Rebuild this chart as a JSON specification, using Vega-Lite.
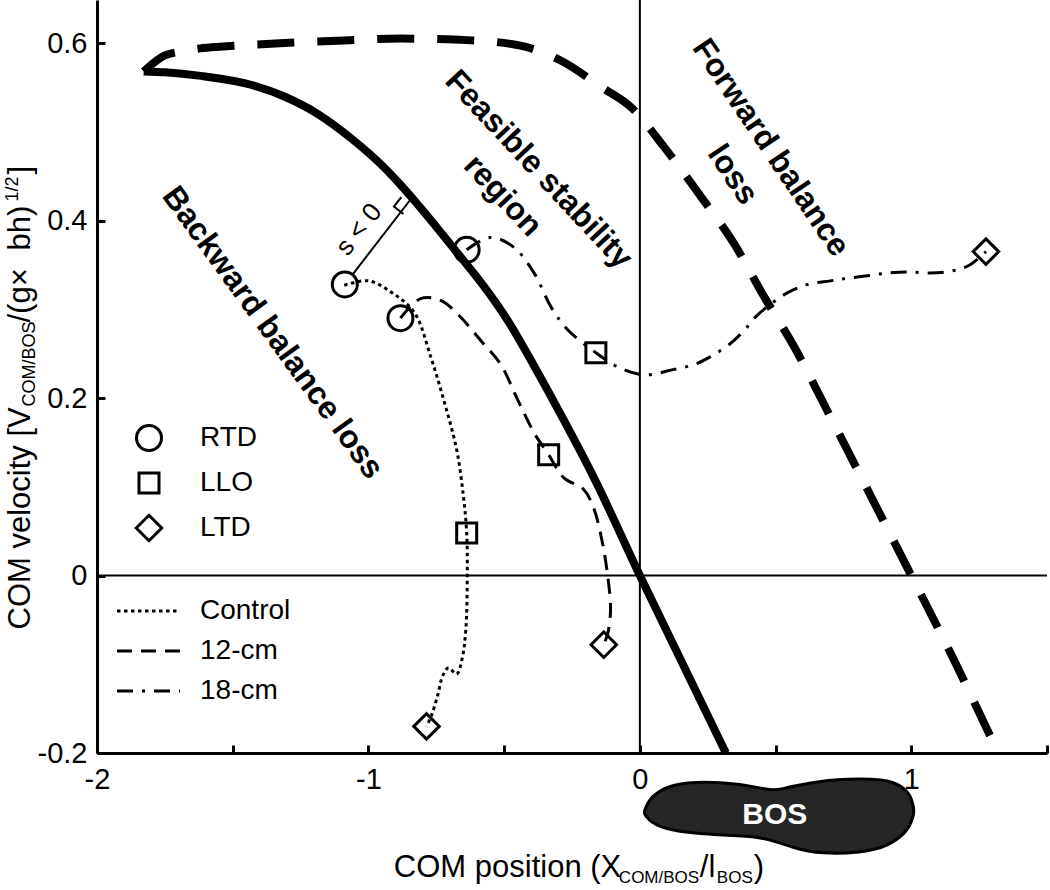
{
  "$schema": "https://vega.github.io/schema/vega-lite/v6.json",
  "width": 950,
  "height": 753,
  "autosize": {"type": "none"},
  "padding": {"left": 97, "top": 0, "right": 3, "bottom": 137},
  "background": "white",
  "config": {
    "view": {"stroke": null},
    "font": "Liberation Sans",
    "axis": {
      "grid": false,
      "domainColor": "black",
      "domainWidth": 3,
      "tickColor": "black",
      "tickWidth": 3,
      "tickSize": -8,
      "labelFont": "Liberation Sans",
      "labelFontSize": 29,
      "labelColor": "black",
      "title": null
    },
    "legend": {"padding": 0, "labelFont": "Liberation Sans", "labelColor": "black", "labelFontSize": 28, "title": null}
  },
  "datasets": {
    "traj": [
      {"s": "Control", "i": 1, "x": -1.089, "y": 0.327},
      {"s": "Control", "i": 2, "x": -1.0, "y": 0.332},
      {"s": "Control", "i": 3, "x": -0.91, "y": 0.318},
      {"s": "Control", "i": 4, "x": -0.83, "y": 0.296},
      {"s": "Control", "i": 5, "x": -0.77, "y": 0.246},
      {"s": "Control", "i": 6, "x": -0.72, "y": 0.195},
      {"s": "Control", "i": 7, "x": -0.675, "y": 0.142},
      {"s": "Control", "i": 8, "x": -0.65, "y": 0.089},
      {"s": "Control", "i": 9, "x": -0.638, "y": 0.048},
      {"s": "Control", "i": 10, "x": -0.636, "y": 0.0},
      {"s": "Control", "i": 11, "x": -0.641, "y": -0.06},
      {"s": "Control", "i": 12, "x": -0.655, "y": -0.094},
      {"s": "Control", "i": 13, "x": -0.675, "y": -0.111},
      {"s": "Control", "i": 14, "x": -0.705, "y": -0.104},
      {"s": "Control", "i": 15, "x": -0.725, "y": -0.112},
      {"s": "Control", "i": 16, "x": -0.745, "y": -0.135},
      {"s": "Control", "i": 17, "x": -0.768, "y": -0.158},
      {"s": "Control", "i": 18, "x": -0.786, "y": -0.17},
      {"s": "12-cm", "i": 1, "x": -0.882, "y": 0.29},
      {"s": "12-cm", "i": 2, "x": -0.808, "y": 0.312},
      {"s": "12-cm", "i": 3, "x": -0.734, "y": 0.31},
      {"s": "12-cm", "i": 4, "x": -0.66, "y": 0.291},
      {"s": "12-cm", "i": 5, "x": -0.587, "y": 0.265},
      {"s": "12-cm", "i": 6, "x": -0.513, "y": 0.238},
      {"s": "12-cm", "i": 7, "x": -0.45, "y": 0.198},
      {"s": "12-cm", "i": 8, "x": -0.39, "y": 0.161},
      {"s": "12-cm", "i": 9, "x": -0.336, "y": 0.136},
      {"s": "12-cm", "i": 10, "x": -0.28, "y": 0.11},
      {"s": "12-cm", "i": 11, "x": -0.207, "y": 0.097},
      {"s": "12-cm", "i": 12, "x": -0.17, "y": 0.076},
      {"s": "12-cm", "i": 13, "x": -0.14, "y": 0.04},
      {"s": "12-cm", "i": 14, "x": -0.12, "y": 0.003},
      {"s": "12-cm", "i": 15, "x": -0.108, "y": -0.038},
      {"s": "12-cm", "i": 16, "x": -0.118, "y": -0.065},
      {"s": "12-cm", "i": 17, "x": -0.133, "y": -0.078},
      {"s": "18-cm", "i": 1, "x": -0.638, "y": 0.367},
      {"s": "18-cm", "i": 2, "x": -0.55, "y": 0.381},
      {"s": "18-cm", "i": 3, "x": -0.465, "y": 0.37},
      {"s": "18-cm", "i": 4, "x": -0.39, "y": 0.341},
      {"s": "18-cm", "i": 5, "x": -0.328, "y": 0.303},
      {"s": "18-cm", "i": 6, "x": -0.266, "y": 0.277},
      {"s": "18-cm", "i": 7, "x": -0.162, "y": 0.251},
      {"s": "18-cm", "i": 8, "x": -0.081, "y": 0.235},
      {"s": "18-cm", "i": 9, "x": 0.015, "y": 0.226},
      {"s": "18-cm", "i": 10, "x": 0.122, "y": 0.232},
      {"s": "18-cm", "i": 11, "x": 0.203, "y": 0.238},
      {"s": "18-cm", "i": 12, "x": 0.262, "y": 0.247},
      {"s": "18-cm", "i": 13, "x": 0.328, "y": 0.26},
      {"s": "18-cm", "i": 14, "x": 0.384, "y": 0.276},
      {"s": "18-cm", "i": 15, "x": 0.435, "y": 0.294},
      {"s": "18-cm", "i": 16, "x": 0.546, "y": 0.319},
      {"s": "18-cm", "i": 17, "x": 0.62, "y": 0.328},
      {"s": "18-cm", "i": 18, "x": 0.701, "y": 0.332},
      {"s": "18-cm", "i": 19, "x": 0.767, "y": 0.335},
      {"s": "18-cm", "i": 20, "x": 0.845, "y": 0.338},
      {"s": "18-cm", "i": 21, "x": 0.915, "y": 0.341},
      {"s": "18-cm", "i": 22, "x": 0.985, "y": 0.342},
      {"s": "18-cm", "i": 23, "x": 1.066, "y": 0.341},
      {"s": "18-cm", "i": 24, "x": 1.147, "y": 0.343},
      {"s": "18-cm", "i": 25, "x": 1.21, "y": 0.349},
      {"s": "18-cm", "i": 26, "x": 1.275, "y": 0.365}
    ],
    "solid": [
      {"i": 1, "x": -1.828, "y": 0.568},
      {"i": 2, "x": -1.75, "y": 0.567},
      {"i": 3, "x": -1.618, "y": 0.563},
      {"i": 4, "x": -1.433, "y": 0.553},
      {"i": 5, "x": -1.312, "y": 0.54},
      {"i": 6, "x": -1.186, "y": 0.52},
      {"i": 7, "x": -1.065, "y": 0.493},
      {"i": 8, "x": -0.943, "y": 0.46},
      {"i": 9, "x": -0.881, "y": 0.44},
      {"i": 10, "x": -0.818, "y": 0.418},
      {"i": 11, "x": -0.671, "y": 0.363},
      {"i": 12, "x": -0.575, "y": 0.326},
      {"i": 13, "x": -0.486, "y": 0.287},
      {"i": 14, "x": -0.391, "y": 0.237},
      {"i": 15, "x": -0.28, "y": 0.175},
      {"i": 16, "x": -0.169, "y": 0.11},
      {"i": 17, "x": 0.0, "y": 0.0},
      {"i": 18, "x": 0.317, "y": -0.2}
    ],
    "dashed": [
      {"i": 1, "x": -1.828, "y": 0.568},
      {"i": 2, "x": -1.79, "y": 0.578},
      {"i": 3, "x": -1.75, "y": 0.586},
      {"i": 4, "x": -1.7, "y": 0.59},
      {"i": 5, "x": -1.62, "y": 0.594},
      {"i": 6, "x": -1.535, "y": 0.596},
      {"i": 7, "x": -1.31, "y": 0.6},
      {"i": 8, "x": -1.09, "y": 0.603},
      {"i": 9, "x": -0.88, "y": 0.605},
      {"i": 10, "x": -0.62, "y": 0.603},
      {"i": 11, "x": -0.44, "y": 0.597},
      {"i": 12, "x": -0.29, "y": 0.58},
      {"i": 13, "x": -0.14, "y": 0.55},
      {"i": 14, "x": -0.03, "y": 0.527},
      {"i": 15, "x": 0.089, "y": 0.483},
      {"i": 16, "x": 0.225, "y": 0.427},
      {"i": 17, "x": 0.347, "y": 0.374},
      {"i": 18, "x": 0.458, "y": 0.314},
      {"i": 19, "x": 0.568, "y": 0.258},
      {"i": 20, "x": 0.7, "y": 0.18},
      {"i": 21, "x": 0.85, "y": 0.09},
      {"i": 22, "x": 1.0, "y": 0.0},
      {"i": 23, "x": 1.16, "y": -0.097},
      {"i": 24, "x": 1.32, "y": -0.2}
    ],
    "events": [
      {"e": "RTD", "s": "Control", "x": -1.087, "y": 0.328},
      {"e": "LLO", "s": "Control", "x": -0.638, "y": 0.048},
      {"e": "LTD", "s": "Control", "x": -0.786, "y": -0.17},
      {"e": "RTD", "s": "12-cm", "x": -0.882, "y": 0.29},
      {"e": "LLO", "s": "12-cm", "x": -0.336, "y": 0.136},
      {"e": "LTD", "s": "12-cm", "x": -0.133, "y": -0.078},
      {"e": "RTD", "s": "18-cm", "x": -0.638, "y": 0.367},
      {"e": "LLO", "s": "18-cm", "x": -0.162, "y": 0.251},
      {"e": "LTD", "s": "18-cm", "x": 1.275, "y": 0.365}
    ]
  },
  "layer": [
    {
      "data": {"name": "traj"},
      "mark": {"type": "line", "strokeWidth": 3, "color": "black", "interpolate": "catmull-rom"},
      "encoding": {
        "x": {
          "field": "x", "type": "quantitative",
          "scale": {"domain": [-2, 1.5], "nice": false, "zero": false},
          "axis": {
            "values": [-2, -1.5, -1, -0.5, 0, 0.5, 1, 1.5],
            "labelExpr": "datum.value % 1 === 0 ? '' + datum.value : ''",
            "labelPadding": 20, "labelFlush": false, "labelOverlap": false
          }
        },
        "y": {
          "field": "y", "type": "quantitative",
          "scale": {"domain": [-0.2, 0.6485], "nice": false, "zero": false},
          "axis": {
            "values": [-0.2, 0, 0.2, 0.4, 0.6],
            "labelExpr": "'' + datum.value",
            "labelPadding": 18, "labelOverlap": false
          }
        },
        "order": {"field": "i", "type": "quantitative"},
        "strokeDash": {
          "field": "s", "type": "nominal",
          "scale": {"domain": ["Control", "12-cm", "18-cm"], "range": [[3.5, 3.5], [15, 9], [16, 9, 3, 9]]},
          "legend": {
            "orient": "none", "legendX": 18.5, "legendY": 597, "clipHeight": 28,
            "symbolType": "stroke", "symbolSize": 3969, "symbolStrokeWidth": 3,
            "symbolStrokeColor": "black", "labelOffset": 18.5, "rowPadding": 12
          }
        }
      }
    },
    {
      "data": {"values": [{"v": 0}]},
      "mark": {"type": "rule", "strokeWidth": 2, "color": "black"},
      "encoding": {"x": {"field": "v", "type": "quantitative"}}
    },
    {
      "data": {"values": [{"v": 0}]},
      "mark": {"type": "rule", "strokeWidth": 2, "color": "black"},
      "encoding": {"y": {"field": "v", "type": "quantitative"}}
    },
    {
      "data": {"name": "solid"},
      "mark": {"type": "line", "strokeWidth": 8, "color": "black", "interpolate": "monotone"},
      "encoding": {
        "x": {"field": "x", "type": "quantitative"},
        "y": {"field": "y", "type": "quantitative"},
        "order": {"field": "i", "type": "quantitative"}
      }
    },
    {
      "data": {"name": "dashed"},
      "mark": {"type": "line", "strokeWidth": 8, "color": "black", "interpolate": "monotone", "strokeDash": [37, 23]},
      "encoding": {
        "x": {"field": "x", "type": "quantitative"},
        "y": {"field": "y", "type": "quantitative"},
        "order": {"field": "i", "type": "quantitative"}
      }
    },
    {
      "data": {"values": [
        {"g": "a", "i": 1, "x": -1.06, "y": 0.3386},
        {"g": "a", "i": 2, "x": -0.845, "y": 0.4237},
        {"g": "b", "i": 1, "x": -0.871, "y": 0.4073},
        {"g": "b", "i": 2, "x": -0.906, "y": 0.4157},
        {"g": "b", "i": 3, "x": -0.879, "y": 0.4264}
      ]},
      "mark": {"type": "line", "strokeWidth": 2, "color": "black"},
      "encoding": {
        "x": {"field": "x", "type": "quantitative"},
        "y": {"field": "y", "type": "quantitative"},
        "detail": {"field": "g"},
        "order": {"field": "i", "type": "quantitative"}
      }
    },
    {
      "data": {"name": "events"},
      "mark": {"type": "point", "filled": false, "stroke": "black", "strokeWidth": 3, "opacity": 1, "size": 625},
      "encoding": {
        "x": {"field": "x", "type": "quantitative"},
        "y": {"field": "y", "type": "quantitative"},
        "shape": {
          "field": "e", "type": "nominal",
          "scale": {
            "domain": ["RTD", "LLO", "LTD"],
            "range": ["circle", "M-0.8,-0.8L0.8,-0.8L0.8,0.8L-0.8,0.8Z", "M-1.02,0L0,-1.02L1.02,0L0,1.02Z"]
          },
          "legend": {
            "orient": "none", "legendX": 38, "legendY": 424,
            "symbolSize": 625, "symbolStrokeWidth": 3, "symbolStrokeColor": "black", "symbolFillColor": "transparent",
            "labelOffset": 37, "rowPadding": 10
          }
        }
      }
    },
    {
      "data": {"values": [{"t": "BOS", "x": 0.51, "y": -0.271}]},
      "mark": {
        "type": "point", "filled": true, "fill": "#262626", "stroke": "black", "strokeWidth": 3, "opacity": 1, "size": 73441,
        "shape": "M-0.988,-0.0255 Q-0.988,-0.044 -0.9635,-0.093 Q-0.939,-0.142 -0.8775,-0.1815 Q-0.816,-0.221 -0.718,-0.237 Q-0.62,-0.253 -0.4725,-0.2465 Q-0.325,-0.24 -0.239,-0.2255 Q-0.153,-0.211 -0.092,-0.199 Q-0.031,-0.187 0.043,-0.204 Q0.117,-0.221 0.2395,-0.243 Q0.362,-0.265 0.509,-0.271 Q0.656,-0.277 0.7545,-0.265 Q0.853,-0.253 0.908,-0.216 Q0.963,-0.179 0.9815,-0.124 Q1,-0.069 1,-0.038 Q1,-0.007 0.9815,0.042 Q0.963,0.091 0.92,0.134 Q0.877,0.177 0.8035,0.2135 Q0.73,0.25 0.595,0.265 Q0.46,0.28 0.3375,0.2715 Q0.215,0.263 0.1165,0.232 Q0.018,0.201 -0.0675,0.1765 Q-0.153,0.152 -0.3005,0.146 Q-0.448,0.14 -0.595,0.1275 Q-0.742,0.115 -0.828,0.0905 Q-0.914,0.066 -0.951,0.0295 Q-0.988,-0.007 -0.988,-0.0255 Z"
      },
      "encoding": {
        "x": {"field": "x", "type": "quantitative"},
        "y": {"field": "y", "type": "quantitative"}
      }
    },
    {
      "data": {"values": [{"t": "BOS", "x": 0.4974, "y": -0.2693}]},
      "mark": {"type": "text", "font": "Liberation Sans", "fontWeight": "bold", "fontSize": 30, "color": "white", "align": "center", "baseline": "middle"},
      "encoding": {
        "x": {"field": "x", "type": "quantitative"},
        "y": {"field": "y", "type": "quantitative"},
        "text": {"field": "t"}
      }
    },
    {
      "data": {"values": [{"t": "Backward balance loss", "x": -1.352, "y": 0.2738}]},
      "mark": {"type": "text", "font": "Liberation Sans", "fontWeight": "bold", "fontSize": 32, "color": "black", "align": "center", "baseline": "middle", "angle": 54},
      "encoding": {
        "x": {"field": "x", "type": "quantitative"},
        "y": {"field": "y", "type": "quantitative"},
        "text": {"field": "t"}
      }
    },
    {
      "data": {"values": [
        {"t": "Feasible stability", "x": -0.372, "y": 0.4575},
        {"t": "region", "x": -0.505, "y": 0.428}
      ]},
      "mark": {"type": "text", "font": "Liberation Sans", "fontWeight": "bold", "fontSize": 32, "color": "black", "align": "center", "baseline": "middle", "angle": 47},
      "encoding": {
        "x": {"field": "x", "type": "quantitative"},
        "y": {"field": "y", "type": "quantitative"},
        "text": {"field": "t"}
      }
    },
    {
      "data": {"values": [
        {"t": "Forward balance", "x": 0.4827, "y": 0.4823},
        {"t": "loss", "x": 0.3427, "y": 0.4518}
      ]},
      "mark": {"type": "text", "font": "Liberation Sans", "fontWeight": "bold", "fontSize": 32, "color": "black", "align": "center", "baseline": "middle", "angle": 56},
      "encoding": {
        "x": {"field": "x", "type": "quantitative"},
        "y": {"field": "y", "type": "quantitative"},
        "text": {"field": "t"}
      }
    },
    {
      "data": {"values": [{"t": "s < 0", "x": -1.035, "y": 0.3899}]},
      "mark": {"type": "text", "font": "Liberation Sans", "fontSize": 26, "color": "black", "align": "center", "baseline": "middle", "angle": 308},
      "encoding": {
        "x": {"field": "x", "type": "quantitative"},
        "y": {"field": "y", "type": "quantitative"},
        "text": {"field": "t"}
      }
    },
    {
      "data": {"values": [
        {"t": "COM position (X", "x": -0.9064, "y": -0.3392},
        {"t": "/l", "x": 0.2211, "y": -0.3392},
        {"t": ")", "x": 0.42, "y": -0.3392}
      ]},
      "mark": {"type": "text", "font": "Liberation Sans", "fontSize": 31, "color": "black", "align": "left", "baseline": "alphabetic"},
      "encoding": {
        "x": {"field": "x", "type": "quantitative"},
        "y": {"field": "y", "type": "quantitative"},
        "text": {"field": "t"}
      }
    },
    {
      "data": {"values": [
        {"t": "COM/BOS", "x": -0.0774, "y": -0.347},
        {"t": "BOS", "x": 0.2837, "y": -0.347}
      ]},
      "mark": {"type": "text", "font": "Liberation Sans", "fontSize": 17, "color": "black", "align": "left", "baseline": "alphabetic"},
      "encoding": {
        "x": {"field": "x", "type": "quantitative"},
        "y": {"field": "y", "type": "quantitative"},
        "text": {"field": "t"}
      }
    },
    {
      "data": {"values": [
        {"t": "COM velocity [V", "x": -2.2476, "y": -0.0608},
        {"t": "/(g×", "x": -2.2476, "y": 0.2851},
        {"t": "bh)", "x": -2.2476, "y": 0.3662},
        {"t": "]", "x": -2.2476, "y": 0.4518}
      ]},
      "mark": {"type": "text", "font": "Liberation Sans", "fontSize": 31, "color": "black", "align": "left", "baseline": "alphabetic", "angle": 270},
      "encoding": {
        "x": {"field": "x", "type": "quantitative"},
        "y": {"field": "y", "type": "quantitative"},
        "text": {"field": "t"}
      }
    },
    {
      "data": {"values": [
        {"t": "COM/BOS", "x": -2.229, "y": 0.1904},
        {"t": "1/2", "x": -2.2918, "y": 0.4214}
      ]},
      "mark": {"type": "text", "font": "Liberation Sans", "fontSize": 18, "color": "black", "align": "left", "baseline": "alphabetic", "angle": 270},
      "encoding": {
        "x": {"field": "x", "type": "quantitative"},
        "y": {"field": "y", "type": "quantitative"},
        "text": {"field": "t"}
      }
    }
  ]
}
